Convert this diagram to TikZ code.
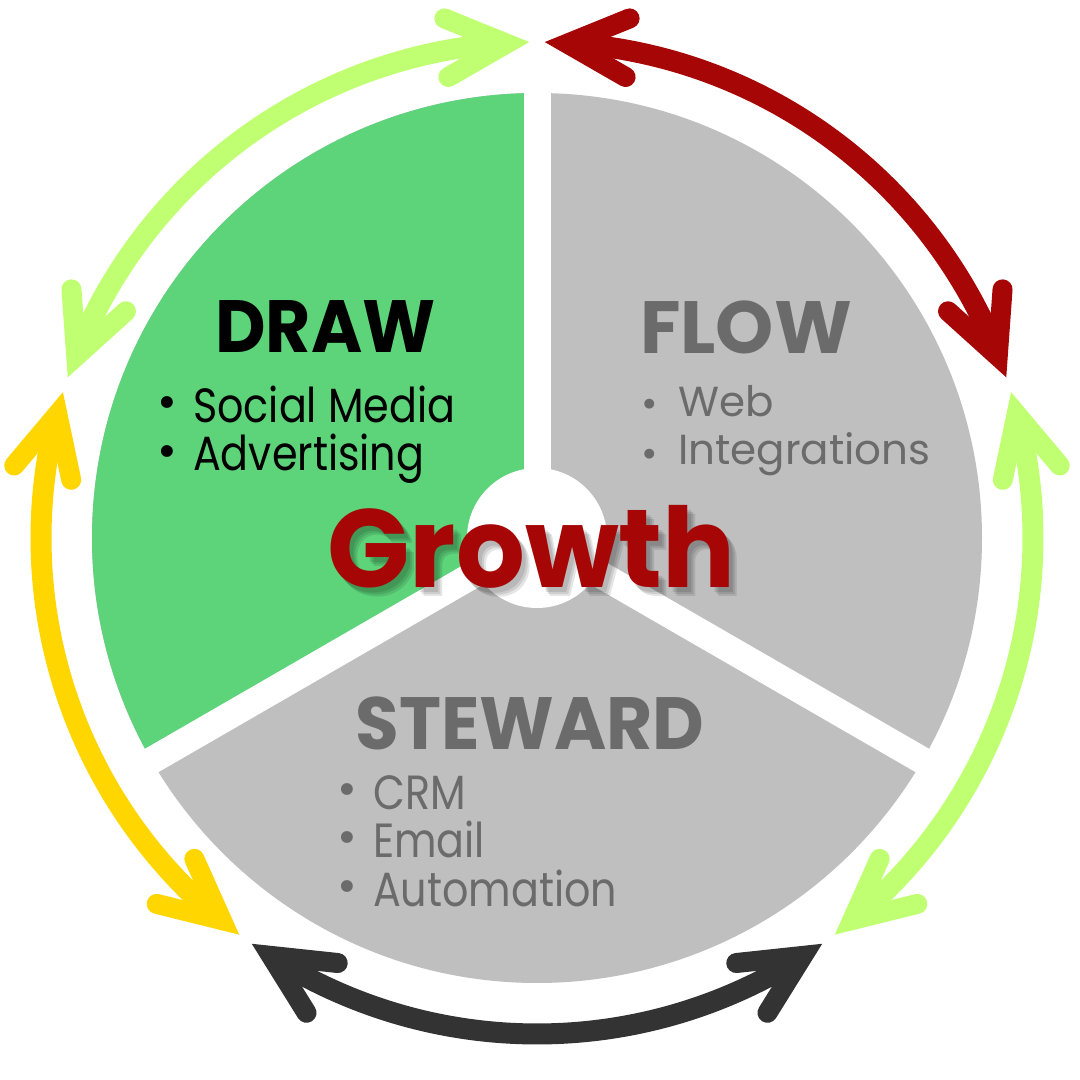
\documentclass[tikz,border=0pt]{standalone}
\usepackage{fontspec}
\setmainfont{Poppins}
\usetikzlibrary{calc}
\definecolor{sgreen}{HTML}{5DD37A}
\definecolor{sgray}{HTML}{BFBFBF}
\definecolor{tgray}{HTML}{6B6B6B}
\definecolor{lgreen}{HTML}{C1FF72}
\definecolor{dred}{HTML}{A60606}
\definecolor{yell}{HTML}{FFD600}
\definecolor{dgray}{HTML}{333333}
\begin{document}
\begin{tikzpicture}[x=1pt,y=1pt,
  ring/.style={draw=#1, line width=21},
  headl/.style={draw=#1, line width=20, line cap=round, line join=miter},
  headtxt/.style={font=\fontsize{74}{74}\selectfont\bfseries, inner sep=0, anchor=base},
  item/.style={font=\fontsize{48}{48}\selectfont, inner sep=0, anchor=base west, xscale=0.86},
  sitem/.style={font=\fontsize{42}{42}\selectfont, inner sep=0, anchor=base west},
  bul/.style={font=\fontsize{48}{48}\selectfont, inner sep=0, anchor=center},
  sbul/.style={font=\fontsize{40}{40}\selectfont, inner sep=0, anchor=center},
  growth/.style={font=\fontsize{111}{111}\selectfont\bfseries, inner sep=0, anchor=base, xscale=0.975}]
\useasboundingbox (0,0) rectangle (1080,1080);
\fill[white] (0,0) rectangle (1080,1080);
\coordinate (C) at (537,542);
% pie
\fill[sgray] (C) circle[radius=445];
\fill[sgreen] (C) -- ($(C)+(90:445)$) arc[start angle=90,end angle=210,radius=445] -- cycle;
\foreach \ang in {90,210,330}
  \draw[white,line width=27] (C) -- ($(C)+(\ang:460)$);
\fill[white] (C) circle[radius=70];
% ring arrows
\foreach \a/\b/\col [count=\i] in {90/162/lgreen, 18/90/dred, -54/18/lgreen, -126/-54/dgray, 162/234/yell}{
  \pgfmathsetmacro\ta{\a+0.9}
  \pgfmathsetmacro\tb{\b-0.9}
  \pgfmathsetmacro\sa{\ta+3.5}
  \pgfmathsetmacro\sb{\tb-3.5}
  \pgfmathsetmacro\pa{\ta+93}
  \pgfmathsetmacro\pb{\tb-93}
  \pgfmathsetmacro\paL{\pa+26}
  \pgfmathsetmacro\paR{\pa-26}
  \pgfmathsetmacro\pbL{\pb+26}
  \pgfmathsetmacro\pbR{\pb-26}
  \coordinate (s\i) at ($(C)+(\ta:496)$);
  \coordinate (e\i) at ($(C)+(\tb:496)$);
  \coordinate (vs\i) at ($(s\i)+(\pa:22.8)$);
  \coordinate (ve\i) at ($(e\i)+(\pb:22.8)$);
  \draw[ring=\col] ($(C)+(\sa:496)$) arc[start angle=\sa, end angle=\sb, radius=496];
  \draw[headl=\col] ($(vs\i)+(\paL:67)$) -- (vs\i) -- ($(vs\i)+(\paR:67)$);
  \draw[headl=\col] ($(ve\i)+(\pbL:67)$) -- (ve\i) -- ($(ve\i)+(\pbR:67)$);
}
% headings
\node[headtxt, text=black, xscale=0.94] (draw) at (325.5,727) {DRAW};
\node[headtxt, text=tgray] (flow) at (746,726) {FLOW};
\node[headtxt, text=tgray, xscale=0.96] (steward) at (530,330) {STEWARD};
% DRAW items
\node[bul, text=black] (b1) at (167,672) {•};
\node[item, text=black] (i1) at (193,657) {Social Media};
\node[bul, text=black] (b2) at (167,623) {•};
\node[item, text=black] (i2) at (193,609) {Advertising};
% FLOW items
\node[sbul, text=tgray] (b3) at (650,672) {•};
\node[sitem, text=tgray] (i3) at (678,663) {Web};
\node[sbul, text=tgray] (b4) at (650,622) {•};
\node[sitem, text=tgray] (i4) at (678,615) {Integrations};
% STEWARD items
\node[bul, text=tgray] (b5) at (347,285) {•};
\node[item, text=tgray] (i5) at (373,270) {CRM};
\node[bul, text=tgray] (b6) at (347,237) {•};
\node[item, text=tgray] (i6) at (373,222) {Email};
\node[bul, text=tgray] (b7) at (347,188) {•};
\node[item, text=tgray] (i7) at (373,173) {Automation};
% Growth with soft shadow
\foreach \dx/\dy [count=\j] in {4/5,6/7,8/9}
  \node[growth, text=black, opacity=0.1] (gs\j) at (531.5+\dx,492-\dy) {Growth};
\node[growth, text=dred] (growthtxt) at (531.5,492) {Growth};
\end{tikzpicture}
\end{document}
